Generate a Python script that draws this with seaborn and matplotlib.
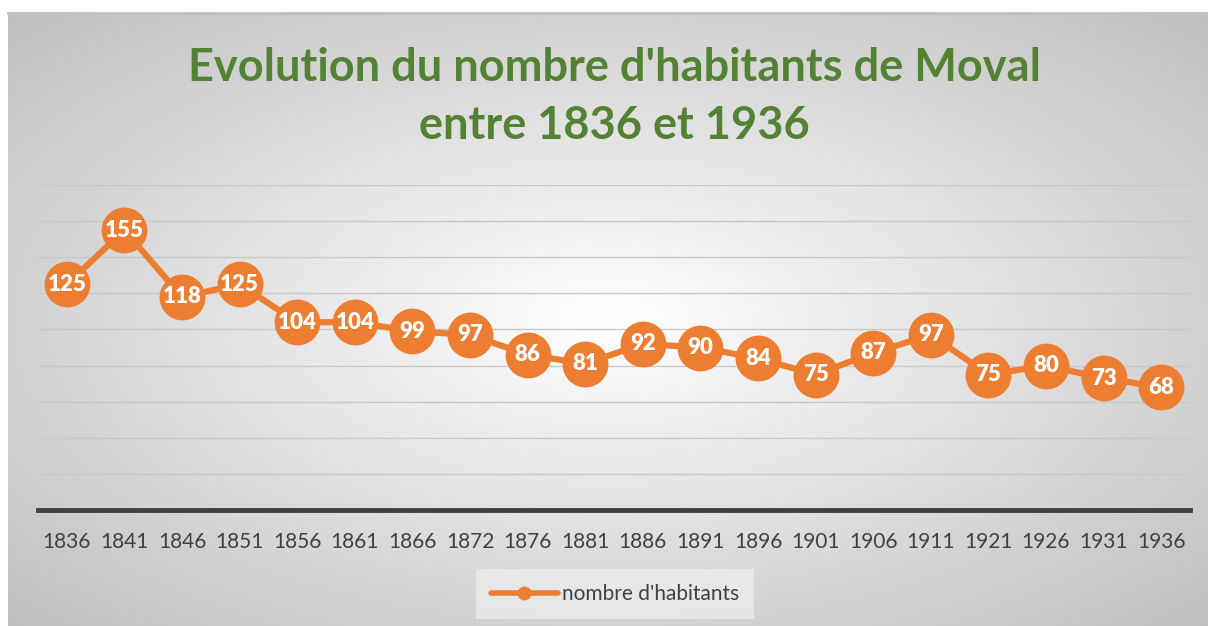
import numpy as np
import pandas as pd
import matplotlib.pyplot as plt
import seaborn as sns

# Data
annees = ["1836", "1841", "1846", "1851", "1856", "1861", "1866", "1872", "1876", "1881",
          "1886", "1891", "1896", "1901", "1906", "1911", "1921", "1926", "1931", "1936"]
habitants = [125, 155, 118, 125, 104, 104, 99, 97, 86, 81,
             92, 90, 84, 75, 87, 97, 75, 80, 73, 68]

df = pd.DataFrame({"pos": range(len(annees)), "annee": annees, "habitants": habitants})

sns.set_style("white")
plt.rcParams["font.family"] = ["Lato", "DejaVu Sans"]

orange = "#ED7D31"
vert = "#548235"
gris_txt = "#404040"

W, H = 1208, 626
fig = plt.figure(figsize=(W / 100, H / 100), dpi=100)
fig.patch.set_facecolor("white")

# background panel with radial gradient
bg = fig.add_axes([8 / W, 0, 1 - 8 / W, 1 - 13 / H])
ny, nx = 300, 600
yy, xx = np.mgrid[0:ny, 0:nx]
cx, cy = nx * 0.5, ny * 0.5
r = np.sqrt(((xx - cx) / nx) ** 2 + ((yy - cy) / ny) ** 2)
r = r / r.max()
shade = 1.0 - 0.25 * np.clip(r, 0, 1) ** 1.0
img = np.dstack([shade, shade, shade])
bg.imshow(img, aspect="auto", extent=(0, 1, 0, 1), origin="upper")
bg.set_xlim(0, 1)
bg.set_ylim(0, 1)
bg.set_xticks([])
bg.set_yticks([])
for s in ["left", "right", "bottom"]:
    bg.spines[s].set_visible(False)
bg.spines["top"].set_color("#bfbfbf")
bg.spines["top"].set_linewidth(2)

# main plot area
ax = fig.add_axes([38 / W, (H - 510) / H, (1190 - 38) / W, (510 - 185) / H])
ax.patch.set_alpha(0)

sns.lineplot(data=df, x="pos", y="habitants", ax=ax, color=orange, linewidth=4.5,
             marker="o", markersize=33, markeredgewidth=0, label="nombre d'habitants")

for p, v in zip(df["pos"], df["habitants"]):
    ax.text(p, v, str(v), ha="center", va="center", color="white",
            fontsize=16, fontweight="heavy")

ax.set_xlim(-0.5, len(annees) - 0.5)
ax.set_ylim(0, 180)
ax.set_yticks(np.arange(0, 181, 20))
ax.set_yticklabels([])
ax.tick_params(axis="y", length=0)
ax.grid(axis="y", color="#c8c8c8", linewidth=1)
ax.set_axisbelow(True)
ax.set_xticks(df["pos"])
ax.set_xticklabels(annees, color=gris_txt, fontsize=15)
ax.tick_params(axis="x", length=0, pad=16)
ax.set_xlabel("")
ax.set_ylabel("")
for s in ["left", "right", "top"]:
    ax.spines[s].set_visible(False)
ax.spines["bottom"].set_color("#404040")
ax.spines["bottom"].set_linewidth(3.5)

leg = ax.legend(loc="center", bbox_to_anchor=(615 / W, 1 - 594 / H), bbox_transform=fig.transFigure,
                frameon=True, fontsize=15, handlelength=3.2, handletextpad=0.2,
                borderpad=0.7, fancybox=False)
leg.get_frame().set_facecolor("#ececec")
leg.get_frame().set_edgecolor("none")
for t in leg.get_texts():
    t.set_color(gris_txt)
for h in leg.legend_handles:
    h.set_markersize(10)
    h.set_linewidth(4)

fig.text(614 / W, 1 - 97 / H, "Evolution du nombre d'habitants de Moval\nentre 1836 et 1936",
         ha="center", va="center", color=vert, fontsize=32.5, fontweight="bold",
         linespacing=1.45)

fig.savefig("out.png", dpi=100)
